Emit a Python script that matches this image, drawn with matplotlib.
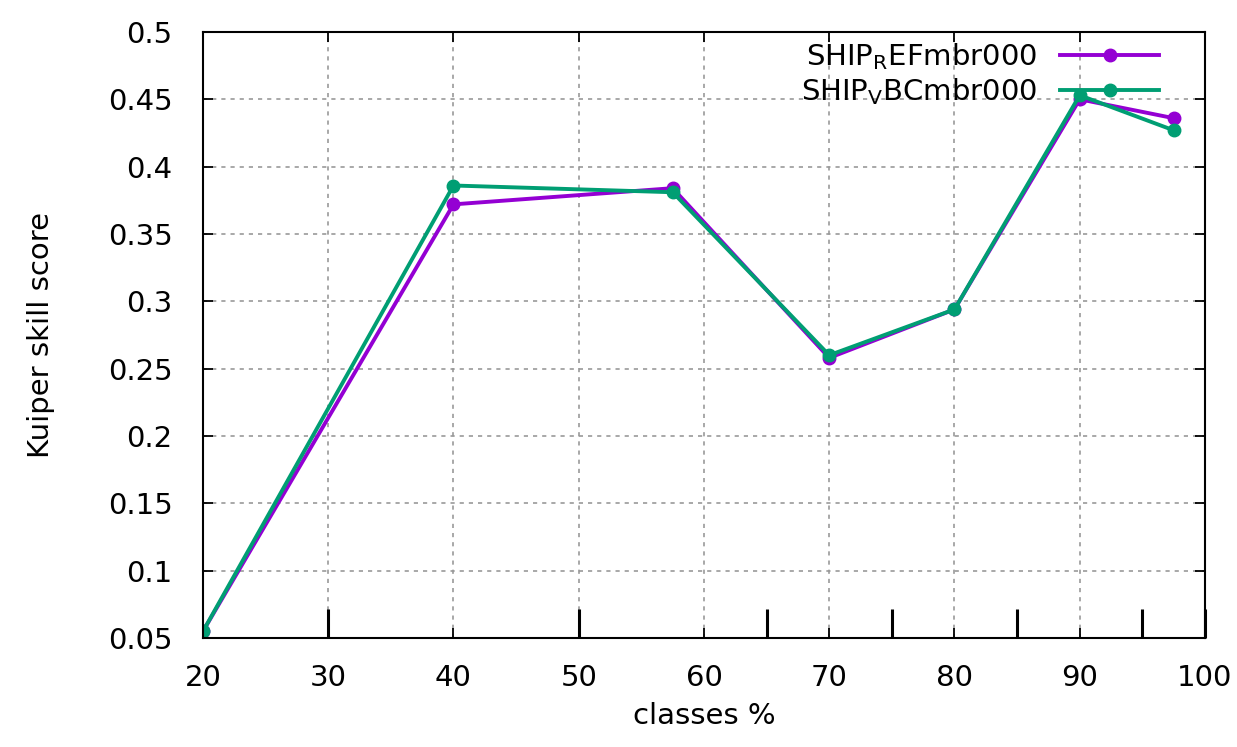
import matplotlib
matplotlib.use('Agg')
import matplotlib.pyplot as plt
import matplotlib.ticker as ticker

plt.rcParams['font.family'] = ['DejaVu Sans']
plt.rcParams['mathtext.default'] = 'regular'

# classes (%) and Kuiper skill score per run
classes = [20, 40, 57.5, 70, 80, 90, 97.5]
ref_scores = [0.055, 0.372, 0.384, 0.258, 0.294, 0.450, 0.436]
vbc_scores = [0.055, 0.386, 0.381, 0.260, 0.294, 0.453, 0.427]
labels = ['SHIP$_{R}$EFmbr000', 'SHIP$_{V}$BCmbr000']
colors = ['#9400d3', '#009e73']

# class boundaries marked on the x axis
bounds = [30, 50, 65, 75, 85, 95, 100]

fig = plt.figure(figsize=(12.37, 7.47), dpi=100)
ax = fig.add_axes([0.1641, 0.1459, 0.81, 0.8113])

for vals, lab, c in zip([ref_scores, vbc_scores], labels, colors):
    ax.plot(classes, vals, color=c, lw=2.8, marker='o', ms=9, label=lab)

ax.set_xlim(20, 100)
ax.set_ylim(0.05, 0.5)
ax.xaxis.set_major_locator(ticker.MultipleLocator(10))
ax.yaxis.set_major_locator(ticker.MultipleLocator(0.05))
ax.yaxis.set_major_formatter(ticker.FuncFormatter(lambda v, p: f'{v:.2f}'.rstrip('0')))

ax.xaxis.remove_overlapping_locs = False
ax.xaxis.set_minor_locator(ticker.FixedLocator(bounds))
ax.tick_params(axis='both', which='major', direction='in', length=7, width=1.3,
               top=True, right=True, labelsize=21, colors='black')
ax.tick_params(axis='y', which='major', pad=22)
ax.tick_params(axis='x', which='major', pad=19)
ax.tick_params(axis='x', which='minor', direction='in', length=21, width=2.2,
               top=False, bottom=True)

ax.grid(True, which='major', color='#999999', linestyle=(0, (2.5, 3)), lw=1.2)
ax.set_axisbelow(True)
for s in ax.spines.values():
    s.set_linewidth(1.5)

ax.set_xlabel('classes %', fontsize=21, labelpad=7)
ax.set_ylabel('Kuiper skill score', fontsize=21, labelpad=38)

ax.legend(loc='upper right', frameon=False, fontsize=21, markerfirst=False,
          handlelength=3.4, numpoints=1, labelspacing=0.15,
          borderaxespad=0.3, bbox_to_anchor=(0.975, 1.018))

fig.savefig('out.png', dpi=100)
